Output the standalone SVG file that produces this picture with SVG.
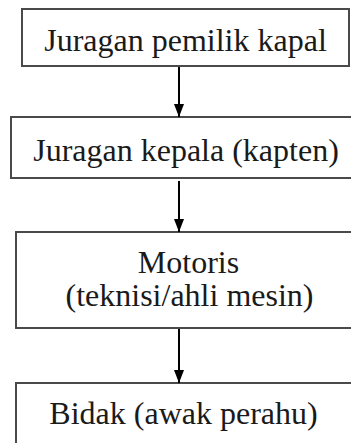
<svg xmlns="http://www.w3.org/2000/svg" width="351" height="443" viewBox="0 0 351 443">
  <style>
    .box { fill: #ffffff; stroke: #4a4a4a; stroke-width: 2; }
    .label { font-family: "Liberation Serif", "Times New Roman", serif; font-size: 32px; fill: #1a1a1a; text-anchor: middle; }
    .link { stroke: #000000; stroke-width: 2; fill: none; }
  </style>
  <defs>
    <!-- filled triangular head, tip at the end point of the line -->
    <marker id="arrowhead" markerWidth="13" markerHeight="10" refX="13" refY="5" orient="auto" markerUnits="userSpaceOnUse" viewBox="0 0 13 10">
      <path d="M0,0 L13,5 L0,10 Z" fill="#000000"/>
    </marker>
  </defs>
  <rect width="351" height="443" fill="#ffffff"/>

  <g id="node-pemilik">
    <rect class="box" x="22" y="9" width="327" height="57"/>
    <text class="label" x="185.5" y="51">Juragan pemilik kapal</text>
  </g>

  <g id="node-kepala">
    <rect class="box" x="11" y="117" width="352" height="61"/>
    <text class="label" x="186" y="161">Juragan kepala (kapten)</text>
  </g>

  <g id="node-motoris">
    <rect class="box" x="16" y="232" width="348" height="96"/>
    <text class="label" x="188.5" y="273">Motoris</text>
    <text class="label" x="189.5" y="306">(teknisi/ahli mesin)</text>
  </g>

  <g id="node-bidak">
    <rect class="box" x="16" y="383" width="348" height="70"/>
    <text class="label" x="183.5" y="424">Bidak (awak perahu)</text>
  </g>

  <g id="connectors">
    <line class="link" x1="179" y1="67" x2="179" y2="117" marker-end="url(#arrowhead)"/>
    <line class="link" x1="179" y1="181" x2="179" y2="232" marker-end="url(#arrowhead)"/>
    <line class="link" x1="179" y1="329" x2="179" y2="383" marker-end="url(#arrowhead)"/>
  </g>
</svg>
